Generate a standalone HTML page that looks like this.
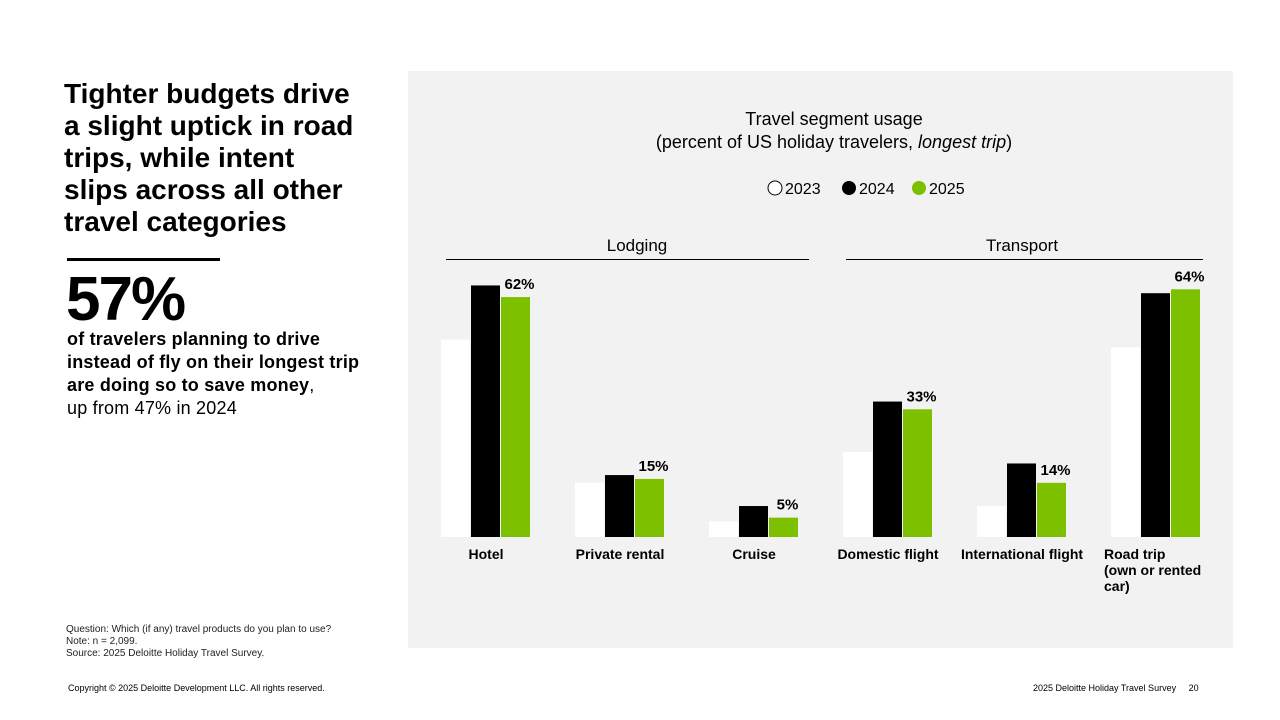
<!DOCTYPE html>
<html><head><meta charset="utf-8">
<style>
body{margin:0;width:1280px;height:720px;background:#fff;font-family:"Liberation Sans",sans-serif;position:relative;overflow:hidden}
.abs{position:absolute}
</style></head>
<body>
<div class="abs" style="left:64px;top:78px;white-space:nowrap;font-size:28px;font-weight:bold;line-height:32px;color:#000">Tighter budgets drive<br>a slight uptick in road<br>trips, while intent<br>slips across all other<br>travel categories</div>
<div class="abs" style="left:67px;top:258px;width:153px;height:3px;background:#000"></div>
<div class="abs" style="left:66px;top:266px;font-size:62px;font-weight:bold;letter-spacing:-2px;line-height:68px">57%</div>
<div class="abs" style="left:67px;top:328px;width:310px;font-size:18px;line-height:23px;color:#000;letter-spacing:0.2px"><b>of travelers planning to drive instead of fly on their longest trip are doing so to save money</b>,<br>up from 47% in 2024</div>
<div class="abs" style="left:66px;top:624px;font-size:10px;line-height:12px;color:#222">Question: Which (if any) travel products do you plan to use?<br>Note: n = 2,099.<br>Source: 2025 Deloitte Holiday Travel Survey.</div>
<div class="abs" style="left:68px;top:683px;font-size:9px;color:#000">Copyright © 2025 Deloitte Development LLC. All rights reserved.</div>
<div class="abs" style="left:1033px;top:683px;font-size:9px;color:#000">2025 Deloitte Holiday Travel Survey&nbsp;&nbsp;&nbsp;&nbsp;&nbsp;20</div>
<div class="abs" style="left:408px;top:71px;width:825px;height:577px;background:#f2f2f2"></div>
<svg class="abs" style="left:0;top:0" width="1280" height="720" id="chart">
<text x="834" y="125" text-anchor="middle" font-size="18">Travel segment usage</text>
<text x="834" y="148" text-anchor="middle" font-size="18">(percent of US holiday travelers, <tspan font-style="italic">longest trip</tspan>)</text>
<g>
<circle cx="775" cy="188" r="7" fill="#fff" stroke="#000" stroke-width="1"/>
<text x="785" y="194" font-size="16">2023</text>
<circle cx="849" cy="188" r="7" fill="#000"/>
<text x="859" y="194" font-size="16">2024</text>
<circle cx="919" cy="188" r="7" fill="#7cc000"/>
<text x="929" y="194" font-size="16">2025</text>
</g>
<text x="637" y="251" text-anchor="middle" font-size="17">Lodging</text>
<line x1="446" y1="259.5" x2="809" y2="259.5" stroke="#000" stroke-width="1"/>
<text x="1022" y="251" text-anchor="middle" font-size="17">Transport</text>
<line x1="846" y1="259.5" x2="1203" y2="259.5" stroke="#000" stroke-width="1"/>
<g id="bars"></g>
</svg>
<script>
const categories=["Hotel","Private rental","Cruise","Domestic flight","International flight","Road trip"];
const labelLines=[["Hotel"],["Private rental"],["Cruise"],["Domestic flight"],["International flight"],["Road trip","(own or rented","car)"]];
const v2023=[51,14,4,22,8,49];
const v2024=[65,16,8,35,19,63];
const v2025=[62,15,5,33,14,64];
const years=["2023","2024","2025"];
const colors=["#ffffff","#000000","#7cc000"];
const baseY=537, scale=3.87, startX=486, step=134, bw=29;
const y=v=>baseY-v*scale;
const g=document.getElementById('bars');
const NS="http://www.w3.org/2000/svg";
const series=[v2023,v2024,v2025];
categories.forEach((c,i)=>{
  const cx=startX+i*step;
  series.forEach((s,k)=>{
    const r=document.createElementNS(NS,'rect');
    const x=cx-45+k*30;
    r.setAttribute('x',x);r.setAttribute('y',y(s[i]));
    r.setAttribute('width',bw);r.setAttribute('height',baseY-y(s[i]));
    r.setAttribute('fill',colors[k]);
    
    
    g.appendChild(r);
    if(k===2){
      const t=document.createElementNS(NS,'text');
      t.setAttribute('x',x+bw/2+4);t.setAttribute('y',y(s[i])-8);
      t.setAttribute('text-anchor','middle');t.setAttribute('font-size','15');t.setAttribute('font-weight','bold');
      t.textContent=s[i]+'%';
      
      
      g.appendChild(t);
    }
  });
  const lines=labelLines[i];
  lines.forEach((ln,j)=>{
    const t=document.createElementNS(NS,'text');
    if(lines.length>1){t.setAttribute('x',cx-52);t.setAttribute('text-anchor','start');}
    else{t.setAttribute('x',cx);t.setAttribute('text-anchor','middle');}
    t.setAttribute('y',559+j*16);
    t.setAttribute('font-size','14');t.setAttribute('font-weight','bold');
    t.textContent=ln;
    
    
    g.appendChild(t);
  });
});
</script>
</body></html>
